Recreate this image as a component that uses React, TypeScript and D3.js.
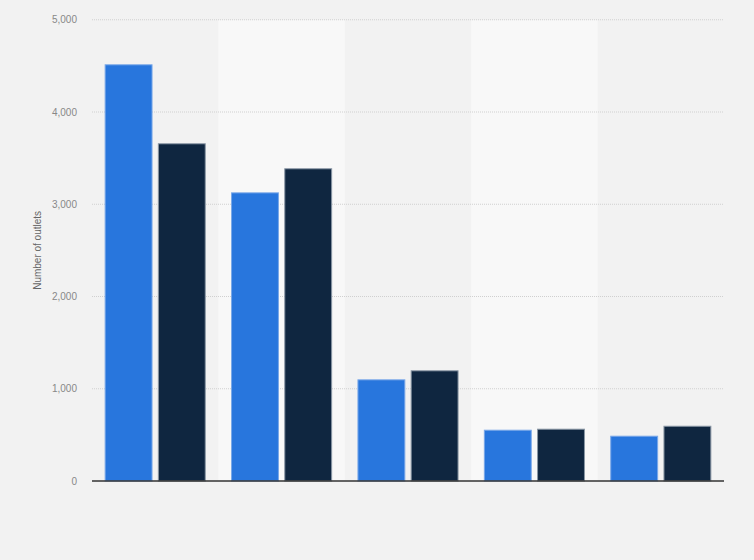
import * as d3 from "d3";

const categories = ["A", "B", "C", "D", "E"];
const seriesNames = ["Series 1", "Series 2"];
const series1 = [4517, 3129, 1102, 556, 491];
const series2 = [3661, 3390, 1200, 567, 599];
const yTicks = [0, 1000, 2000, 3000, 4000, 5000];

const colors = ["#2876dd", "#0f2640"];
const strokes = ["#7aa8e8", "#8a97a5"];

export default function App() {
    const width = 754;
    const height = 560;
    const marginLeft = 92;
    const marginRight = 30;
    const marginTop = 19.75;
    const plotBottom = 481;

    const x = d3.scaleBand(categories, [marginLeft, width - marginRight])
        .paddingInner(0.2)
        .paddingOuter(0.1);
    const xSub = d3.scaleBand(seriesNames, [0, x.bandwidth()]).paddingInner(0.1);
    const y = d3.scaleLinear([0, 5000], [plotBottom, marginTop]);
    const step = x.step();
    const values = [series1, series2];

    return (
        <div style={{ position: "fixed", left: 0, top: 0 }}>
            <svg width={width} height={height} style={{ display: "block", background: "#f2f2f2" }}>
                {/* alternating column bands */}
                {categories.map((c, i) => i % 2 === 1 ? (
                    <rect
                        key={c}
                        x={marginLeft + step * i}
                        y={marginTop}
                        width={step}
                        height={plotBottom - marginTop}
                        fill="#f8f8f8"
                    />
                ) : null)}

                {/* gridlines and tick labels */}
                {yTicks.map((t) => (
                    <g key={t}>
                        {t > 0 && (
                            <line
                                x1={marginLeft}
                                x2={width - marginRight}
                                y1={y(t)}
                                y2={y(t)}
                                stroke="#d0d0d0"
                                strokeWidth={1}
                                strokeDasharray="1,1"
                            />
                        )}
                        <text
                            x={77}
                            y={y(t)}
                            dy="0.35em"
                            textAnchor="end"
                            fontFamily="'Liberation Sans', Arial, sans-serif"
                            fontSize={10}
                            fill="#888"
                        >
                            {d3.format(",")(t)}
                        </text>
                    </g>
                ))}

                {/* bars */}
                {categories.map((c, i) => (
                    <g key={c} transform={`translate(${x(c)},0)`}>
                        {seriesNames.map((s, j) => (
                            <rect
                                key={s}
                                x={(xSub(s) as number) + 0.5}
                                y={y(values[j][i]) + 0.5}
                                width={xSub.bandwidth() - 1}
                                height={plotBottom - y(values[j][i]) - 0.5}
                                fill={colors[j]}
                                stroke={strokes[j]}
                                strokeWidth={1}
                            />
                        ))}
                    </g>
                ))}

                {/* baseline */}
                <line
                    x1={marginLeft}
                    x2={width - marginRight}
                    y1={plotBottom}
                    y2={plotBottom}
                    stroke="#333"
                    strokeWidth={1.5}
                />

                <text
                    transform={`translate(41,${(marginTop + plotBottom) / 2}) rotate(-90)`}
                    textAnchor="middle"
                    fontFamily="'Liberation Sans', Arial, sans-serif"
                    fontSize={10}
                    fill="#666"
                >
                    Number of outlets
                </text>
            </svg>
        </div>
    );
}
